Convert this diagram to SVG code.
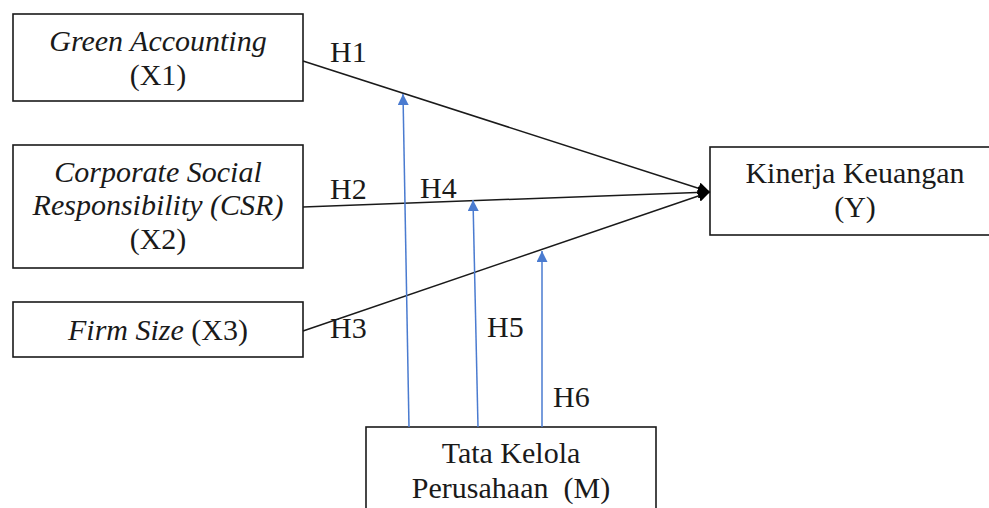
<svg xmlns="http://www.w3.org/2000/svg" width="989" height="508" viewBox="0 0 989 508">
<style>
.box{fill:#fff;stroke:#1a1a1a;stroke-width:1.6}
text{font-family:"Liberation Serif","Times New Roman",serif;font-size:30px;fill:#1a1a1a}
.c{text-anchor:middle}
.i{font-style:italic}
.blk{stroke:#1a1a1a;stroke-width:1.5;fill:none}
.blu{stroke:#4a7bd0;stroke-width:1.5;fill:none}
</style>
<defs>
<marker id="ab" viewBox="0 0 12 12" refX="12" refY="6" markerWidth="12" markerHeight="12" markerUnits="userSpaceOnUse" orient="auto">
<path d="M0,0 L12,6 L0,12 Z" fill="#000"/>
</marker>
<marker id="au" viewBox="0 0 12 12" refX="12" refY="6" markerWidth="11" markerHeight="11" markerUnits="userSpaceOnUse" orient="auto">
<path d="M0,0 L12,6 L0,12 Z" fill="#4a7bd0"/>
</marker>
</defs>
<g id="x1">
<rect class="box" x="13" y="14" width="290" height="87"/>
<text class="c i" x="158" y="51">Green Accounting</text>
<text class="c" x="158" y="85">(X1)</text>
</g>
<g id="x2">
<rect class="box" x="13" y="145" width="290" height="123"/>
<text class="c i" x="158" y="182">Corporate Social</text>
<text class="c i" x="158" y="215">Responsibility (CSR)</text>
<text class="c" x="158" y="249">(X2)</text>
</g>
<g id="x3">
<rect class="box" x="13" y="302" width="290" height="55"/>
<text class="c" x="158" y="340"><tspan class="i">Firm Size</tspan> (X3)</text>
</g>
<g id="y">
<rect class="box" x="710" y="147" width="290" height="88"/>
<text class="c" x="855" y="183">Kinerja Keuangan</text>
<text class="c" x="855" y="217">(Y)</text>
</g>
<g id="m">
<rect class="box" x="366" y="427" width="290" height="100"/>
<text class="c" x="511" y="463">Tata Kelola</text>
<text class="c" x="511" y="498" xml:space="preserve">Perusahaan  (M)</text>
</g>
<g id="connectors">
<line class="blk" x1="303" y1="61" x2="710" y2="192" marker-end="url(#ab)"/>
<line class="blk" x1="303" y1="207" x2="710" y2="192" marker-end="url(#ab)"/>
<line class="blk" x1="303" y1="331" x2="710" y2="192" marker-end="url(#ab)"/>
<line class="blu" x1="409" y1="427" x2="403" y2="94" marker-end="url(#au)"/>
<line class="blu" x1="478" y1="427" x2="473" y2="200" marker-end="url(#au)"/>
<line class="blu" x1="542" y1="427" x2="542" y2="251" marker-end="url(#au)"/>
</g>
<g id="labels">
<text x="330" y="62">H1</text>
<text x="330" y="199">H2</text>
<text x="420" y="198">H4</text>
<text x="330" y="338">H3</text>
<text x="487" y="337">H5</text>
<text x="553" y="407">H6</text>
</g>
</svg>
